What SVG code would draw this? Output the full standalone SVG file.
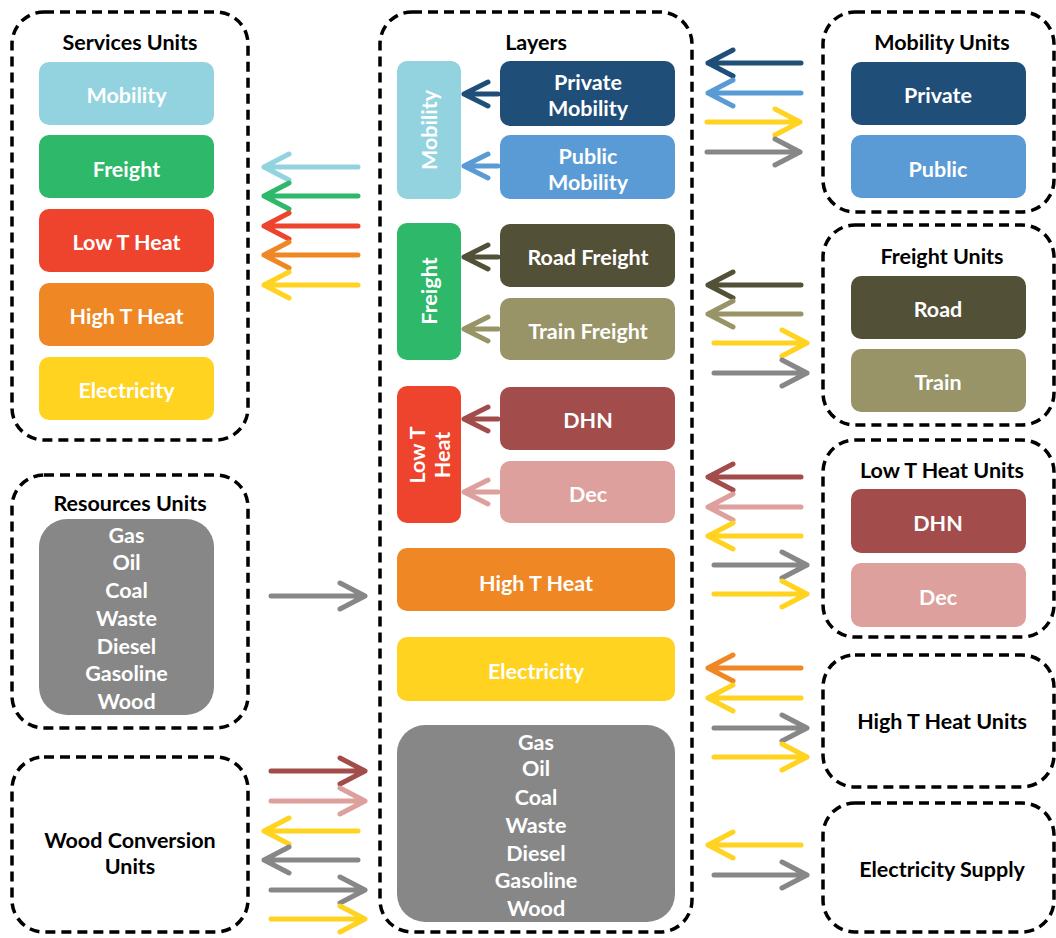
<svg xmlns="http://www.w3.org/2000/svg" width="1056" height="938" viewBox="0 0 1056 938">
  <style>
    text { font-family: Lato, "Open Sans", "Liberation Sans", sans-serif; font-weight: 700; font-size: 21.5px; text-anchor: middle; dominant-baseline: central; }
    .w { fill: #ffffff; }
    .k { fill: #000000; }
    .group { fill: none; stroke: #000; stroke-width: 3.5; stroke-dasharray: 10 6; }
    .arr { fill: none; stroke-width: 5; stroke-linecap: round; stroke-linejoin: round; }
    .c-lb { fill: #92D3DF; } .s-lb { stroke: #92D3DF; }
    .c-gr { fill: #2DB86A; } .s-gr { stroke: #2DB86A; }
    .c-rd { fill: #EE432C; } .s-rd { stroke: #EE432C; }
    .c-or { fill: #EE8724; } .s-or { stroke: #EE8724; }
    .c-ye { fill: #FFD320; } .s-ye { stroke: #FFD320; }
    .c-db { fill: #1F4E79; } .s-db { stroke: #1F4E79; }
    .c-mb { fill: #5B9BD5; } .s-mb { stroke: #5B9BD5; }
    .c-do { fill: #525036; } .s-do { stroke: #525036; }
    .c-ol { fill: #989467; } .s-ol { stroke: #989467; }
    .c-br { fill: #A24D4B; } .s-br { stroke: #A24D4B; }
    .c-pk { fill: #DDA09C; } .s-pk { stroke: #DDA09C; }
    .c-gy { fill: #878787; } .s-gy { stroke: #878787; }
  </style>

  <!-- Services Units -->
  <g id="services-units">
    <rect class="group" x="12" y="12" width="236" height="428" rx="32"/>
    <text class="k" x="130" y="42">Services Units</text>
    <rect class="c-lb" x="39" y="62" width="175" height="63" rx="10"/>
    <text class="w" x="126.5" y="95">Mobility</text>
    <rect class="c-gr" x="39" y="135" width="175" height="63" rx="10"/>
    <text class="w" x="126.5" y="169">Freight</text>
    <rect class="c-rd" x="39" y="209" width="175" height="63" rx="10"/>
    <text class="w" x="126.5" y="242">Low T Heat</text>
    <rect class="c-or" x="39" y="283" width="175" height="63" rx="10"/>
    <text class="w" x="126.5" y="316">High T Heat</text>
    <rect class="c-ye" x="39" y="357" width="175" height="63" rx="10"/>
    <text class="w" x="126.5" y="390">Electricity</text>
  </g>

  <!-- Resources Units -->
  <g id="resources-units">
    <rect class="group" x="12" y="475" width="236" height="253" rx="32"/>
    <text class="k" x="130" y="503">Resources Units</text>
    <rect class="c-gy" x="39" y="519" width="175" height="196" rx="28"/>
    <text class="w" x="126.5" y="535">Gas</text>
    <text class="w" x="126.5" y="562">Oil</text>
    <text class="w" x="126.5" y="590">Coal</text>
    <text class="w" x="126.5" y="618">Waste</text>
    <text class="w" x="126.5" y="646">Diesel</text>
    <text class="w" x="126.5" y="673">Gasoline</text>
    <text class="w" x="126.5" y="701">Wood</text>
  </g>

  <!-- Wood Conversion Units -->
  <g id="wood-conversion-units">
    <rect class="group" x="12" y="757" width="236" height="175" rx="32"/>
    <text class="k" x="130" y="840">Wood Conversion</text>
    <text class="k" x="130" y="866">Units</text>
  </g>

  <!-- Layers -->
  <g id="layers">
    <rect class="group" x="380" y="12" width="312" height="920" rx="32"/>
    <text class="k" x="536" y="42">Layers</text>

    <rect class="c-lb" x="397" y="61" width="64" height="138" rx="10"/>
    <text class="w" transform="translate(429 130) rotate(-90)" x="0" y="0">Mobility</text>
    <rect class="c-db" x="500" y="61" width="175" height="65" rx="10"/>
    <text class="w" x="588" y="82">Private</text>
    <text class="w" x="588" y="108">Mobility</text>
    <rect class="c-mb" x="500" y="135" width="175" height="64" rx="10"/>
    <text class="w" x="588" y="156">Public</text>
    <text class="w" x="588" y="182">Mobility</text>

    <rect class="c-gr" x="397" y="223" width="64" height="137" rx="10"/>
    <text class="w" transform="translate(429 291) rotate(-90)" x="0" y="0">Freight</text>
    <rect class="c-do" x="500" y="224" width="175" height="63" rx="10"/>
    <text class="w" x="588" y="257">Road Freight</text>
    <rect class="c-ol" x="500" y="298" width="175" height="62" rx="10"/>
    <text class="w" x="588" y="331">Train Freight</text>

    <rect class="c-rd" x="397" y="386" width="64" height="137" rx="10"/>
    <g transform="translate(429 455) rotate(-90)">
      <text class="w" x="0" y="-12">Low T</text>
      <text class="w" x="0" y="13">Heat</text>
    </g>
    <rect class="c-br" x="500" y="387" width="175" height="63" rx="10"/>
    <text class="w" x="588" y="420">DHN</text>
    <rect class="c-pk" x="500" y="461" width="175" height="62" rx="10"/>
    <text class="w" x="588" y="494">Dec</text>

    <rect class="c-or" x="397" y="548" width="278" height="63" rx="10"/>
    <text class="w" x="536" y="583">High T Heat</text>
    <rect class="c-ye" x="397" y="637" width="278" height="64" rx="10"/>
    <text class="w" x="536" y="671">Electricity</text>

    <rect class="c-gy" x="397" y="725" width="278" height="197" rx="28"/>
    <text class="w" x="536" y="742">Gas</text>
    <text class="w" x="536" y="768">Oil</text>
    <text class="w" x="536" y="797">Coal</text>
    <text class="w" x="536" y="825">Waste</text>
    <text class="w" x="536" y="853">Diesel</text>
    <text class="w" x="536" y="880">Gasoline</text>
    <text class="w" x="536" y="908">Wood</text>
  </g>

  <!-- Mobility Units -->
  <g id="mobility-units">
    <rect class="group" x="823" y="12" width="231" height="200" rx="32"/>
    <text class="k" x="942" y="42">Mobility Units</text>
    <rect class="c-db" x="851" y="62" width="175" height="63" rx="10"/>
    <text class="w" x="938" y="95">Private</text>
    <rect class="c-mb" x="851" y="135" width="175" height="63" rx="10"/>
    <text class="w" x="938" y="169">Public</text>
  </g>

  <!-- Freight Units -->
  <g id="freight-units">
    <rect class="group" x="823" y="225" width="231" height="200" rx="32"/>
    <text class="k" x="942" y="256">Freight Units</text>
    <rect class="c-do" x="851" y="276" width="175" height="63" rx="10"/>
    <text class="w" x="938" y="309">Road</text>
    <rect class="c-ol" x="851" y="349" width="175" height="63" rx="10"/>
    <text class="w" x="938" y="382">Train</text>
  </g>

  <!-- Low T Heat Units -->
  <g id="low-t-heat-units">
    <rect class="group" x="823" y="440" width="231" height="197" rx="32"/>
    <text class="k" x="942" y="470">Low T Heat Units</text>
    <rect class="c-br" x="851" y="489" width="175" height="64" rx="10"/>
    <text class="w" x="938" y="523">DHN</text>
    <rect class="c-pk" x="851" y="563" width="175" height="64" rx="10"/>
    <text class="w" x="938" y="597">Dec</text>
  </g>

  <!-- High T Heat Units -->
  <g id="high-t-heat-units">
    <rect class="group" x="823" y="655" width="231" height="132" rx="32"/>
    <text class="k" x="942" y="721">High T Heat Units</text>
  </g>

  <!-- Electricity Supply -->
  <g id="electricity-supply">
    <rect class="group" x="823" y="803" width="231" height="129" rx="32"/>
    <text class="k" x="942" y="869">Electricity Supply</text>
  </g>

  <!-- Connectors: "M tail H tip" shaft plus chevron head at the tip -->
  <g id="connectors">
    <!-- layers to services -->
    <path class="arr s-lb" d="M358 167 H264 M289 154 L264 167 L289 180"/>
    <path class="arr s-gr" d="M358 196 H264 M289 183 L264 196 L289 209"/>
    <path class="arr s-rd" d="M358 226 H264 M289 213 L264 226 L289 239"/>
    <path class="arr s-or" d="M358 255 H264 M289 242 L264 255 L289 268"/>
    <path class="arr s-ye" d="M358 285 H264 M289 272 L264 285 L289 298"/>

    <!-- resources to layers -->
    <path class="arr s-gy" d="M271 596 H365 M340 583 L365 596 L340 609"/>

    <!-- wood conversion -->
    <path class="arr s-br" d="M271 771 H365 M340 758 L365 771 L340 784"/>
    <path class="arr s-pk" d="M271 801 H365 M340 788 L365 801 L340 814"/>
    <path class="arr s-ye" d="M358 831 H264 M289 818 L264 831 L289 844"/>
    <path class="arr s-gy" d="M358 860 H264 M289 847 L264 860 L289 873"/>
    <path class="arr s-gy" d="M271 890 H365 M340 877 L365 890 L340 903"/>
    <path class="arr s-ye" d="M271 919 H365 M340 906 L365 919 L340 932"/>

    <!-- inside layers -->
    <path class="arr s-db" d="M498 94 H464 M488 82 L464 94 L488 106"/>
    <path class="arr s-mb" d="M498 166 H464 M488 154 L464 166 L488 178"/>
    <path class="arr s-do" d="M498 257 H464 M488 245 L464 257 L488 269"/>
    <path class="arr s-ol" d="M498 329 H464 M488 317 L464 329 L488 341"/>
    <path class="arr s-br" d="M498 419 H464 M488 407 L464 419 L488 431"/>
    <path class="arr s-pk" d="M498 492 H464 M488 480 L464 492 L488 504"/>

    <!-- mobility units -->
    <path class="arr s-db" d="M801 63 H708 M733 50 L708 63 L733 76"/>
    <path class="arr s-mb" d="M801 93 H708 M733 80 L708 93 L733 106"/>
    <path class="arr s-ye" d="M707 122 H800 M775 109 L800 122 L775 135"/>
    <path class="arr s-gy" d="M707 152 H800 M775 139 L800 152 L775 165"/>

    <!-- freight units -->
    <path class="arr s-do" d="M801 285 H708 M733 272 L708 285 L733 298"/>
    <path class="arr s-ol" d="M801 314 H708 M733 301 L708 314 L733 327"/>
    <path class="arr s-ye" d="M714 343 H807 M782 330 L807 343 L782 356"/>
    <path class="arr s-gy" d="M714 373 H807 M782 360 L807 373 L782 386"/>

    <!-- low T heat units -->
    <path class="arr s-br" d="M801 477 H708 M733 464 L708 477 L733 490"/>
    <path class="arr s-pk" d="M801 507 H708 M733 494 L708 507 L733 520"/>
    <path class="arr s-ye" d="M801 536 H708 M733 523 L708 536 L733 549"/>
    <path class="arr s-gy" d="M714 565 H807 M782 552 L807 565 L782 578"/>
    <path class="arr s-ye" d="M714 594 H807 M782 581 L807 594 L782 607"/>

    <!-- high T heat units -->
    <path class="arr s-or" d="M801 668 H708 M733 655 L708 668 L733 681"/>
    <path class="arr s-ye" d="M801 698 H708 M733 685 L708 698 L733 711"/>
    <path class="arr s-gy" d="M714 728 H807 M782 715 L807 728 L782 741"/>
    <path class="arr s-ye" d="M714 757 H807 M782 744 L807 757 L782 770"/>

    <!-- electricity supply -->
    <path class="arr s-ye" d="M801 845 H708 M733 832 L708 845 L733 858"/>
    <path class="arr s-gy" d="M714 875 H807 M782 862 L807 875 L782 888"/>
  </g>
</svg>
